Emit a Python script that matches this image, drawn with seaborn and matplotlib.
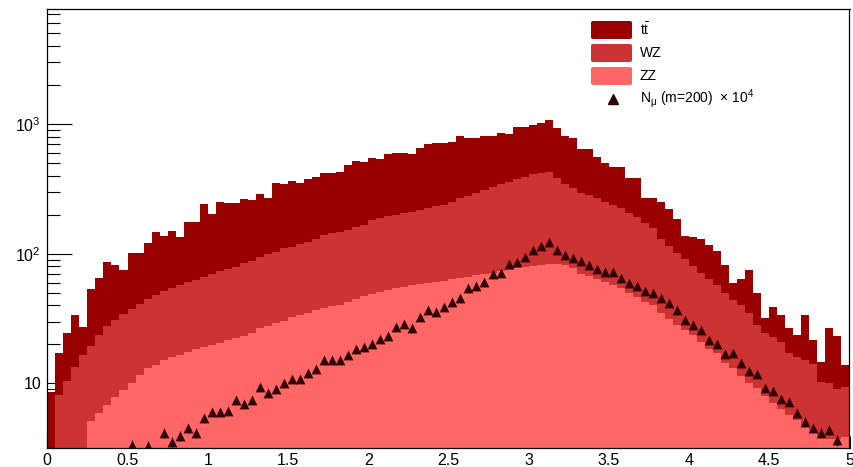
import numpy as np
import pandas as pd
import matplotlib
matplotlib.use("Agg")
import matplotlib.pyplot as plt
import seaborn as sns
from matplotlib.patches import FancyBboxPatch
from matplotlib.lines import Line2D
from matplotlib.ticker import (FixedLocator, FixedFormatter, MultipleLocator,
                               LogLocator, NullFormatter, FuncFormatter)

# ---------------------------------------------------------------- data
# 100 bins of width 0.05 between 0 and 5
bin_width = 0.05
bin_range = (0.0, 5.0)
bin_edges = np.linspace(bin_range[0], bin_range[1], 101)

processes = ["t$\\bar{\\mathrm{t}}$", "WZ", "ZZ"]
colours = ["#990000", "#cc3333", "#ff6666"]

zz_counts = [
    0.6, 1.2, 1.8, 2.4, 3.0, 5.1, 5.9, 6.8, 7.9, 8.9,
    10.0, 11.7, 13.1, 13.8, 15.1, 15.9, 16.5, 17.6, 18.3, 19.0,
    19.8, 20.6, 21.6, 22.5, 23.4, 24.6, 26.6, 27.7, 29.0, 30.4,
    32.3, 33.7, 35.1, 36.8, 38.5, 39.5, 40.5, 42.7, 45.0, 47.0,
    49.0, 51.0, 52.5, 54.0, 55.5, 57.0, 58.0, 59.7, 61.0, 62.0,
    63.5, 65.0, 66.5, 68.0, 70.0, 71.5, 73.0, 75.5, 77.0, 79.0,
    80.5, 82.5, 84.0, 84.0, 81.8, 77.0, 70.0, 67.0, 63.4, 60.8,
    57.4, 54.0, 50.0, 46.6, 42.6, 40.2, 35.0, 31.2, 28.2, 25.8,
    23.6, 21.0, 18.3, 17.1, 14.5, 13.1, 11.4, 10.0, 9.2, 8.0,
    7.1, 6.3, 5.7, 5.2, 4.8, 4.4, 4.0, 3.7, 3.7, 3.9,
]

wz_counts = [
    1.9, 6.9, 8.7, 11.1, 13.5, 14.4, 17.6, 20.7, 23.1, 25.6,
    27.5, 29.3, 31.4, 34.2, 36.4, 38.6, 40.8, 43.2, 44.3, 47.5,
    49.9, 53.4, 54.1, 56.9, 61.9, 63.8, 68.3, 71.7, 74.5, 79.6,
    80.7, 85.3, 88.9, 92.2, 100.5, 104.5, 107.5, 109.3, 115.0, 119.0,
    133.0, 136.0, 142.5, 145.0, 149.5, 154.0, 159.0, 166.3, 172.0, 175.0,
    188.5, 202.0, 212.5, 224.0, 240.0, 253.5, 272.0, 283.5, 300.0, 314.0,
    329.5, 339.5, 345.0, 301.0, 263.2, 243.0, 222.0, 216.0, 206.6, 191.2,
    180.6, 170.0, 155.0, 144.4, 129.4, 116.8, 96.0, 83.8, 73.8, 64.7,
    56.4, 50.4, 45.1, 40.3, 35.0, 30.9, 28.9, 24.7, 19.0, 16.6,
    15.8, 14.7, 11.6, 10.9, 10.3, 9.7, 6.3, 6.3, 5.3, 5.5,
]

ttbar_counts = [
    6.1, 9.1, 14.0, 20.5, 10.9, 33.5, 41.5, 58.5, 51.0, 40.5,
    64.5, 61.0, 75.5, 98.0, 86.5, 95.5, 77.7, 114.2, 112.4, 173.5,
    132.3, 178.0, 169.3, 165.6, 176.7, 170.6, 194.1, 167.6, 249.5, 235.0,
    250.0, 234.0, 250.0, 264.0, 283.0, 273.0, 281.0, 331.0, 361.0, 340.0,
    362.0, 347.0, 389.0, 395.0, 389.0, 373.0, 432.0, 471.0, 476.0, 472.0,
    471.0, 546.0, 496.0, 483.0, 503.0, 488.0, 502.0, 473.0, 576.0, 560.0,
    572.0, 602.0, 644.0, 541.0, 468.0, 455.0, 346.0, 355.0, 290.0, 245.0,
    225.0, 239.0, 180.0, 194.0, 95.0, 110.0, 119.0, 105.0, 84.0, 47.5,
    55.0, 58.6, 53.6, 47.6, 32.5, 16.0, 23.7, 40.3, 21.3, 7.2,
    16.1, 13.0, 9.3, 7.5, 18.9, 7.5, 4.4, 16.6, 14.2, 4.5,
]

# muon yield for m = 200, scaled by 10^4, from bin 10 (x = 0.5) onwards
mu_first_bin = 10
mu_counts = [
    3.35, 2.6, 3.3, 2.6, 4.15, 3.55, 3.93, 4.5, 4.17, 5.38,
    6.05, 6.05, 6.17, 7.45, 7.0, 7.4, 9.33, 8.45, 9.1, 10.0,
    10.9, 10.9, 12.1, 12.85, 15.1, 15.1, 15.1, 16.6, 18.3, 19.2,
    20.3, 22.1, 23.3, 27.4, 28.7, 26.6, 32.7, 36.8, 35.7, 38.7,
    42.2, 45.8, 54.1, 56.4, 60.2, 69.7, 70.5, 83.2, 86.7, 94.8,
    106.7, 114.6, 123.8, 106.7, 97.6, 93.2, 88.3, 81.8, 76.2, 72.7,
    71.8, 64.5, 59.7, 56.6, 51.5, 49.4, 45.3, 41.9, 36.8, 30.8,
    28.2, 25.8, 21.6, 20.1, 17.0, 17.2, 14.3, 12.5, 11.9, 9.15,
    8.73, 7.53, 7.22, 5.94, 5.06, 4.5, 4.16, 4.41, 3.66, 2.6,
]
mu_label = "$\\mathrm{N_{\\mu}}$ (m=200)  $\\times$ 10$^{4}$"

x_tick_values = [0, 0.5, 1, 1.5, 2, 2.5, 3, 3.5, 4, 4.5, 5]
y_tick_values = [10, 100, 1000]
y_tick_labels = ["10", "10$^{2}$", "10$^{3}$"]

# ---------------------------------------------------------------- style
sns.set_theme(style="white")
plt.rcParams["font.family"] = ["Liberation Sans", "DejaVu Sans"]
plt.rcParams["mathtext.fontset"] = "custom"
plt.rcParams["mathtext.rm"] = "Liberation Sans"
plt.rcParams["mathtext.it"] = "Liberation Sans:italic"
plt.rcParams["mathtext.bf"] = "Liberation Sans:bold"

marker_colour = "#330000"

centres = 0.5 * (bin_edges[:-1] + bin_edges[1:])
frames = []
for name, counts in zip(processes, [ttbar_counts, wz_counts, zz_counts]):
    frames.append(pd.DataFrame({"x": centres, "n": counts, "process": name}))
stack_df = pd.concat(frames, ignore_index=True)

mu_x = centres[mu_first_bin:]
mu_y = np.array(mu_counts)
mu_err = 0.18 * np.sqrt(mu_y)

# ---------------------------------------------------------------- figure
W, H = 854, 467
fig = plt.figure(figsize=(W / 100, H / 100), dpi=100)
ax_left, ax_right, ax_top, ax_bottom = 47.3, 849.5, 9.0, 448.0
ax = fig.add_axes([ax_left / W, 1 - ax_bottom / H,
                   (ax_right - ax_left) / W, (ax_bottom - ax_top) / H])

sns.histplot(data=stack_df, x="x", weights="n", hue="process",
             hue_order=processes, palette=dict(zip(processes, colours)),
             binwidth=bin_width, binrange=bin_range, multiple="stack",
             element="step", fill=True, alpha=1.0, linewidth=0,
             legend=False, ax=ax)

ax.set_yscale("log")

ax.errorbar(mu_x, mu_y, yerr=mu_err, fmt="none", ecolor=marker_colour,
            elinewidth=0.8, capsize=0, zorder=4)
sns.scatterplot(x=mu_x, y=mu_y, marker="^", s=50, color=marker_colour,
                edgecolor=marker_colour, linewidth=0, ax=ax, zorder=5)

ax.set_xlim(0, 5)
ax.set_ylim(3.18, 7700)
ax.set_xlabel("")
ax.set_ylabel("")

ax.xaxis.set_major_locator(FixedLocator(x_tick_values))
ax.xaxis.set_major_formatter(FuncFormatter(lambda v, p: f"{v:g}"))
ax.xaxis.set_minor_locator(MultipleLocator(0.1))
ax.yaxis.set_major_locator(FixedLocator(y_tick_values))
ax.yaxis.set_major_formatter(FixedFormatter(y_tick_labels))
ax.yaxis.set_minor_locator(LogLocator(base=10, subs=np.arange(2, 10)))
ax.yaxis.set_minor_formatter(NullFormatter())

ax.tick_params(axis="both", which="both", direction="in", colors="black",
               width=0.8, labelsize=11.5, bottom=True, left=True,
               top=False, right=False)
ax.tick_params(axis="x", which="major", length=8.6, pad=3.5)
ax.tick_params(axis="x", which="minor", length=4.3)
ax.tick_params(axis="y", which="major", length=18, pad=4.5)
ax.tick_params(axis="y", which="minor", length=9)

for sp in ax.spines.values():
    sp.set_visible(True)
    sp.set_color("black")
    sp.set_linewidth(0.9)
    sp.set_zorder(10)

# ---------------------------------------------------------------- legend
def px(x, y):
    return x / W, 1 - y / H

row_y = [30, 53, 76, 99]
for name, col, yc in zip(processes, colours, row_y[:3]):
    fig.add_artist(FancyBboxPatch(px(591, yc + 9), 41 / W, 18 / H,
                                  boxstyle="round,pad=0,rounding_size=0.003",
                                  transform=fig.transFigure, facecolor=col,
                                  edgecolor="none", zorder=21))
    fig.text(*px(640, yc), name, ha="left", va="center", fontsize=10,
             color="black", zorder=22)
fig.add_artist(Line2D([613 / W], [1 - row_y[3] / H], marker="^",
                      markersize=6.5, color=marker_colour, linestyle="none",
                      transform=fig.transFigure, zorder=22))
fig.text(*px(640, row_y[3]), mu_label, ha="left", va="center", fontsize=10,
         color="black", zorder=22)

fig.savefig("out.png", dpi=100)
